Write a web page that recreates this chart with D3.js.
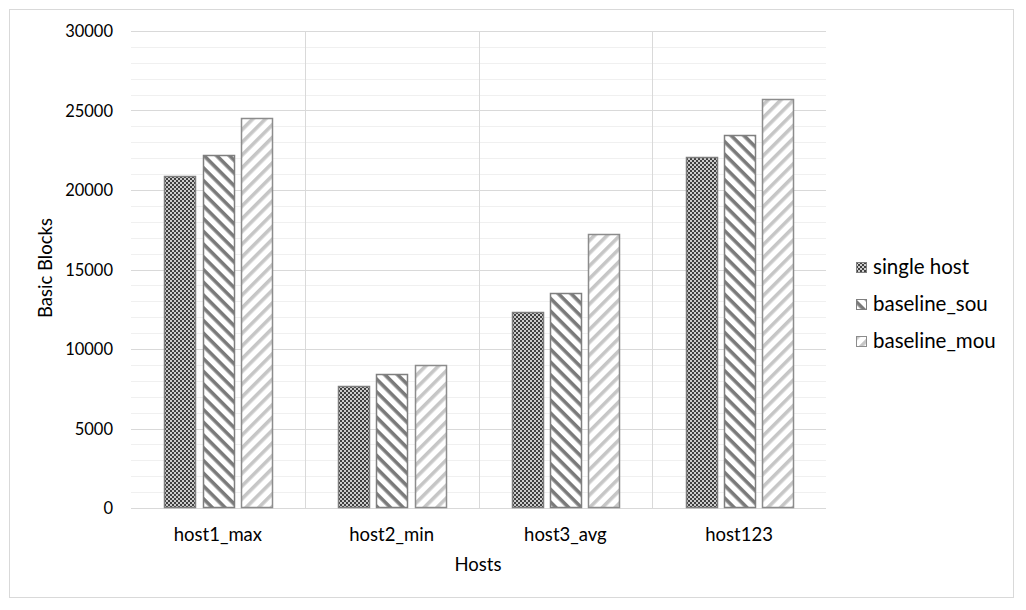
<!DOCTYPE html>
<html><head><meta charset="utf-8">
<script src="https://cdn.jsdelivr.net/npm/d3@7"></script>
<style>body{margin:0;background:#fff}svg{display:block}text{font-family:Lato,"Open Sans",sans-serif;fill:#000}</style>
</head><body><svg id="c" width="1026" height="610"></svg>
<script>
const categories = ["host1_max","host2_min","host3_avg","host123"];
const seriesNames = ["single host","baseline_sou","baseline_mou"];
const singleHost = [20900, 7700, 12300, 22100];
const baselineSou = [22200, 8450, 13500, 23450];
const baselineMou = [24500, 9000, 17250, 25700];
const yTicks = [0,5000,10000,15000,20000,25000,30000];

const series = [singleHost, baselineSou, baselineMou];
const svg = d3.select("#c");
const defs = svg.append("defs");
// checker
const p0 = defs.append("pattern").attr("id","p0").attr("patternUnits","userSpaceOnUse").attr("width",4).attr("height",4);
p0.append("rect").attr("width",4).attr("height",4).attr("fill","#cdcdcd");
p0.append("rect").attr("width",2).attr("height",2).attr("fill","#404040");
p0.append("rect").attr("x",2).attr("y",2).attr("width",2).attr("height",2).attr("fill","#404040");
// stripes \\
const p1 = defs.append("pattern").attr("id","p1").attr("patternUnits","userSpaceOnUse").attr("width",9).attr("height",9).attr("patternTransform","rotate(45)");
p1.append("rect").attr("width",9).attr("height",9).attr("fill","#fff");
p1.append("rect").attr("width",9).attr("height",3.6).attr("fill","#7a7a7a");
// stripes //
const p2 = defs.append("pattern").attr("id","p2").attr("patternUnits","userSpaceOnUse").attr("width",9).attr("height",9).attr("patternTransform","rotate(-45)");
p2.append("rect").attr("width",9).attr("height",9).attr("fill","#fff");
p2.append("rect").attr("width",9).attr("height",3.6).attr("fill","#c6c6c6");
const fills = ["url(#p0)","url(#p1)","url(#p2)"];
const strokes = ["#7f7f7f","#7f7f7f","#8c8c8c"];

svg.append("rect").attr("x",9.5).attr("y",9.5).attr("width",1004).attr("height",588).attr("fill","#fff").attr("stroke","#d9d9d9");

const L=131, R=826, T=31, B=508;
const x = d3.scaleBand().domain(categories).range([L,R]);
const xs = d3.scaleBand().domain(d3.range(3)).range([0,x.bandwidth()]).paddingInner(0.2).paddingOuter(0.87);
const y = d3.scaleLinear().domain([0,30000]).range([B,T]);

const g = svg.append("g");
// minor grid
g.selectAll("line.mn").data(d3.range(1000,30001,1000).filter(v=>v%5000)).join("line")
 .attr("x1",L).attr("x2",R).attr("y1",d=>Math.round(y(d))+0.5).attr("y2",d=>Math.round(y(d))+0.5).attr("stroke","#f0f0f0");
g.selectAll("line.mj").data(yTicks.slice(1)).join("line")
 .attr("x1",L).attr("x2",R).attr("y1",d=>Math.round(y(d))+0.5).attr("y2",d=>Math.round(y(d))+0.5).attr("stroke","#d9d9d9");
g.selectAll("line.v").data(categories.slice(1)).join("line")
 .attr("x1",d=>Math.round(x(d))+0.5).attr("x2",d=>Math.round(x(d))+0.5).attr("y1",T).attr("y2",B).attr("stroke","#d9d9d9");
g.append("line").attr("x1",L).attr("x2",R).attr("y1",B+0.5).attr("y2",B+0.5).attr("stroke","#d9d9d9");

// bars
series.forEach((s,i)=>{
  g.selectAll("rect.s"+i).data(s).join("rect")
   .attr("x",(d,j)=>Math.round(x(categories[j])+xs(i))+0.5)
   .attr("y",d=>Math.round(y(d))+0.5)
   .attr("width",Math.round(xs.bandwidth()))
   .attr("height",d=>B-Math.round(y(d))-1)
   .attr("fill",fills[i]).attr("stroke",strokes[i]).attr("stroke-width",1.5);
});

// y labels
svg.selectAll("text.yt").data(yTicks).join("text")
 .attr("x",113).attr("y",d=>y(d)+6).attr("text-anchor","end").attr("font-size",16.5).text(d=>d);
svg.selectAll("text.xt").data(categories).join("text")
 .attr("x",d=>x(d)+x.bandwidth()/2).attr("y",541).attr("text-anchor","middle").attr("font-size",18.5).text(d=>d);
svg.append("text").attr("x",478).attr("y",571).attr("text-anchor","middle").attr("font-size",18.5).text("Hosts");
svg.append("text").attr("transform","translate(52,268) rotate(-90)").attr("text-anchor","middle").attr("font-size",18.5).text("Basic Blocks");

// legend
const lg = svg.selectAll("g.lg").data(seriesNames).join("g").attr("transform",(d,i)=>`translate(856,${262+i*37})`);
lg.append("rect").attr("x",0.5).attr("y",0.5).attr("width",10).attr("height",10).attr("fill",(d,i)=>fills[i]).attr("stroke",(d,i)=>strokes[i]);
lg.append("text").attr("x",17).attr("y",12).attr("font-size",20.5).text(d=>d);
</script></body></html>
